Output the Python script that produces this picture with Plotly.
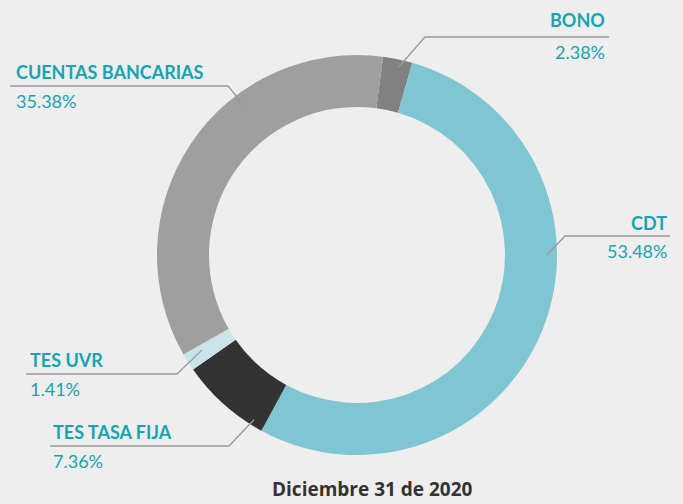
import math
import plotly.graph_objects as go

# slice data (clockwise from the top)
labels = ['BONO', 'CDT', 'TES TASA FIJA', 'TES UVR', 'CUENTAS BANCARIAS']
values = [2.38, 53.48, 7.36, 1.41, 35.38]
colors = ['#818181', '#80c6d2', '#333333', '#c9e5ea', '#9f9f9f']
pct_text = ['2.38%', '53.48%', '7.36%', '1.41%', '35.38%']
title_text = 'Diciembre 31 de 2020'

W, H = 683, 504
cx, cy, R = 357, 255, 200
TEAL = '#17a3b0'


def px(x):
  return x / W


def py(y):
  return 1 - y / H


fig = go.Figure()
fig.add_trace(go.Pie(
  labels=labels,
  values=values,
  hole=0.74,
  sort=False,
  direction='clockwise',
  rotation=7.5,
  textinfo='none',
  hoverinfo='label+percent',
  marker=dict(colors=colors, line=dict(width=0)),
  domain=dict(x=[px(cx - R), px(cx + R)], y=[py(cy + R), py(cy - R)]),
  showlegend=False
))

# label placement: (side, text x, label y, line y, horizontal end x, elbow x, tip angle, tip radius)
label_pos = {
  'BONO': ('right', 607, 20, 37, 609, 425, 12.4, 0.96),
  'CDT': ('right', 669, 223, 236, 670, 565, 90, 0.95),
  'TES TASA FIJA': ('left', 51, 432, 446, 50, 229, 212, 0.97),
  'TES UVR': ('left', 28, 360, 374, 26, 177, 238.5, 0.91),
  'CUENTAS BANCARIAS': ('left', 14, 72, 86, 10, 228, 323, 0.91),
}

for name, pct in zip(labels, pct_text):
  side, tx, ly, liney, hx, ex, ang, rr = label_pos[name]
  a = math.radians(ang)
  tipx = cx + R * rr * math.sin(a)
  tipy = cy - R * rr * math.cos(a)
  fig.add_shape(type='path', xref='paper', yref='paper',
                path='M %f %f L %f %f L %f %f' % (px(hx), py(liney), px(ex), py(liney), px(tipx), py(tipy)),
                line=dict(color='#9a9a9a', width=1.3))
  fig.add_annotation(x=px(tx), y=py(ly), xref='paper', yref='paper', text='<b>%s</b>' % name,
                     showarrow=False, xanchor=side, yanchor='middle',
                     font=dict(family='Lato', size=18, color=TEAL))
  fig.add_annotation(x=px(tx), y=py(liney + 15), xref='paper', yref='paper', text=pct,
                     showarrow=False, xanchor=side, yanchor='middle',
                     font=dict(family='Lato', size=18, color=TEAL))

fig.add_annotation(x=px(372), y=0, xref='paper', yref='paper', text='<b>%s</b>' % title_text,
                   showarrow=False, xanchor='center', yanchor='bottom',
                   font=dict(family='Open Sans', size=19, color='#333333'))

fig.update_layout(
  width=W, height=H,
  margin=dict(l=0, r=0, t=0, b=0),
  paper_bgcolor='#eeeeee',
  plot_bgcolor='#eeeeee'
)

fig.write_html('out.html', config={'displayModeBar': False},
               post_script="document.body.style.margin='0';")
